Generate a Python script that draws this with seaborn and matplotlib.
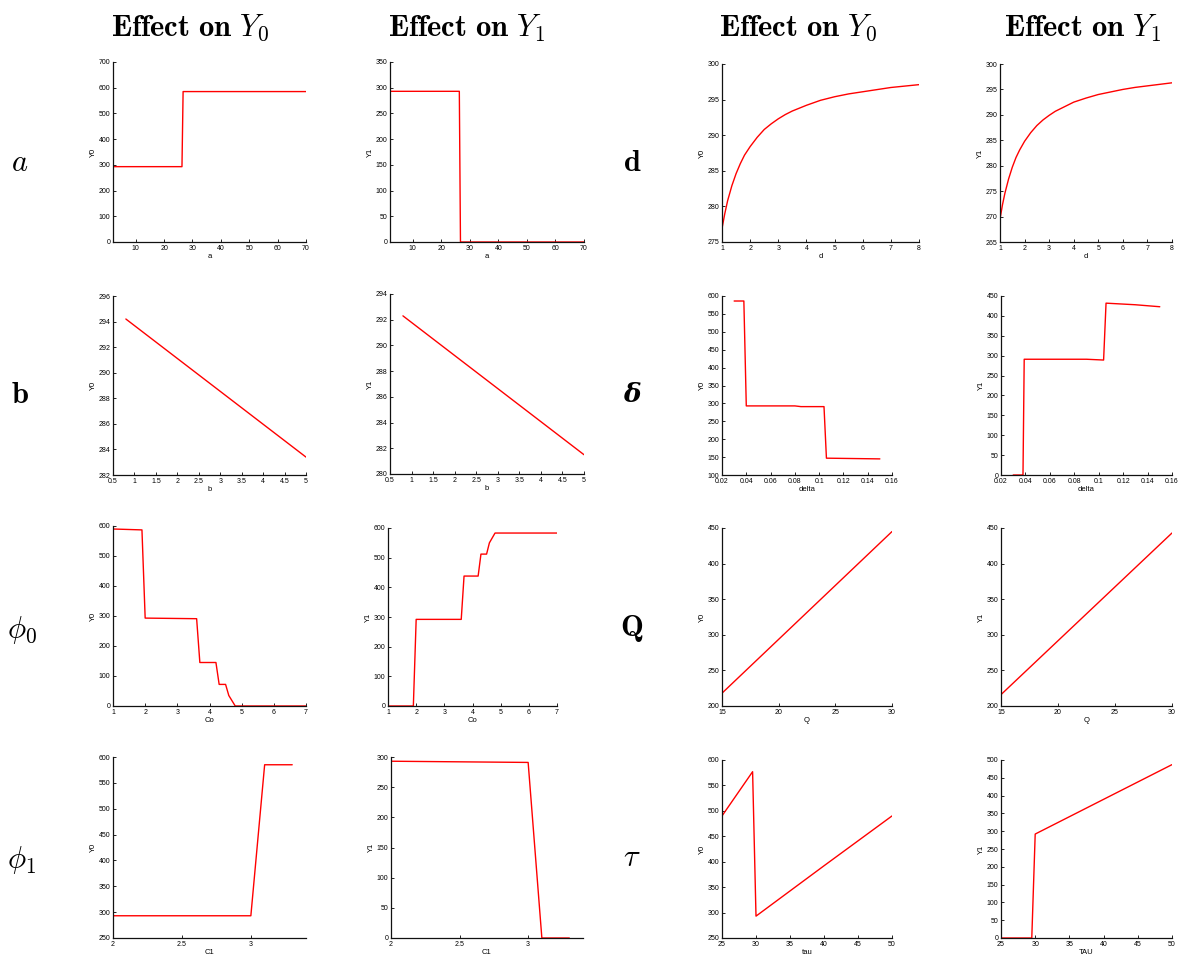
import numpy as np
import pandas as pd
import matplotlib
matplotlib.use("Agg")
import matplotlib.pyplot as plt
import seaborn as sns

# ---------------- data ----------------
a_x = [2, 26.3, 26.7, 70]
a_y0 = [293, 293, 585, 585]
a_y1 = [293, 293, 0, 0]

b_x = [0.8, 5.0]
b_y0 = [294.2, 283.4]
b_y1 = [292.3, 281.5]

co_x = [1.0, 1.9, 2.0, 3.6, 3.7, 4.2, 4.3, 4.5, 4.6, 4.8, 7.0]
co_y0 = [590, 587, 293, 291, 145, 145, 72, 72, 35, 0, 0]
co_y1 = [0, 0, 292, 292, 438, 438, 512, 512, 550, 583, 583]

c1_x = [2.0, 3.0, 3.1, 3.3]
c1_y0 = [293, 293, 585, 585]
c1_y1 = [293, 291, 0, 0]

d_x = [1, 1.1, 1.2, 1.35, 1.5, 1.65, 1.8, 2, 2.25, 2.5, 2.75, 3, 3.25, 3.5, 4,
       4.5, 5, 5.5, 6, 6.5, 7, 7.5, 8]
d_y0 = [276.9, 279.0, 280.8, 282.9, 284.6, 286.0, 287.2, 288.4, 289.7, 290.8,
        291.6, 292.3, 292.9, 293.4, 294.2, 294.9, 295.4, 295.8, 296.1, 296.4,
        296.7, 296.9, 297.1]
d_y1 = [269.5, 272.3, 274.6, 277.4, 279.7, 281.6, 283.1, 284.8, 286.5, 287.9,
        289.0, 289.9, 290.7, 291.3, 292.5, 293.3, 294.0, 294.5, 295.0, 295.4,
        295.7, 296.0, 296.3]

delta_x0 = [0.03, 0.038, 0.04, 0.08, 0.085, 0.104, 0.106, 0.15]
delta_y0 = [586, 586, 293, 293, 291, 291, 147, 145]
delta_x1 = [0.03, 0.038, 0.039, 0.09, 0.104, 0.106, 0.13, 0.15]
delta_y1 = [0, 0, 291, 291, 289, 432, 428, 423]

q_x = [15, 30]
q_y0 = [218, 445]
q_y1 = [216, 443]

tau_x0 = [25, 29.5, 30, 40, 50]
tau_y0 = [490, 577, 293, 392, 490]
tau_x1 = [25, 29.5, 30, 50]
tau_y1 = [0, 0, 292, 487]

col_titles = [r"$\mathbf{Effect\ on}\ Y_0$", r"$\mathbf{Effect\ on}\ Y_1$",
              r"$\mathbf{Effect\ on}\ Y_0$", r"$\mathbf{Effect\ on}\ Y_1$"]

# ---------------- figure ----------------
sns.set_style("ticks")
plt.rcParams["font.family"] = ["Liberation Sans", "DejaVu Sans"]
plt.rcParams["mathtext.fontset"] = "cm"
plt.rcParams["text.color"] = "black"
plt.rcParams["axes.labelcolor"] = "black"

W, H = 1179, 956
fig = plt.figure(figsize=(W / 100, H / 100), dpi=100)


def box(l, t, r, b):
    return [l / W, 1 - b / H, (r - l) / W, (b - t) / H]


panels = [
    (box(113, 62, 306, 242), a_x, a_y0, "a", "Y0", (2, 70), (0, 700), range(10, 71, 10), range(0, 701, 100)),
    (box(390, 62, 584, 242), a_x, a_y1, "a", "Y1", (2, 70), (0, 350), range(10, 71, 10), range(0, 351, 50)),
    (box(722, 64, 919, 242), d_x, d_y0, "d", "Y0", (1, 8), (275, 300), range(1, 9), range(275, 301, 5)),
    (box(1000, 64, 1172, 242), d_x, d_y1, "d", "Y1", (1, 8), (265, 300), range(1, 9), range(265, 301, 5)),

    (box(113, 296, 306, 475), b_x, b_y0, "b", "Y0", (0.5, 5), (282, 296), np.arange(0.5, 5.01, 0.5), range(282, 297, 2)),
    (box(390, 294, 584, 474), b_x, b_y1, "b", "Y1", (0.5, 5), (280, 294), np.arange(0.5, 5.01, 0.5), range(280, 295, 2)),
    (box(722, 296, 892, 475), delta_x0, delta_y0, "delta", "Y0", (0.02, 0.16), (100, 600), np.arange(0.02, 0.161, 0.02), range(100, 601, 50)),
    (box(1001, 296, 1172, 475), delta_x1, delta_y1, "delta", "Y1", (0.02, 0.16), (0, 450), np.arange(0.02, 0.161, 0.02), range(0, 451, 50)),

    (box(113, 526, 306, 706), co_x, co_y0, "Co", "Y0", (1, 7), (0, 600), range(1, 8), range(0, 601, 100)),
    (box(388, 528, 557, 706), co_x, co_y1, "Co", "Y1", (1, 7), (0, 600), range(1, 8), range(0, 601, 100)),
    (box(722, 528, 892, 706), q_x, q_y0, "Q", "Y0", (15, 30), (200, 450), range(15, 31, 5), range(200, 451, 50)),
    (box(1001, 528, 1172, 706), q_x, q_y1, "Q", "Y1", (15, 30), (200, 450), range(15, 31, 5), range(200, 451, 50)),

    (box(113, 757, 306, 938), c1_x, c1_y0, "C1", "Y0", (2, 3.4), (250, 600), [2, 2.5, 3], range(250, 601, 50)),
    (box(391, 757, 583, 938), c1_x, c1_y1, "C1", "Y1", (2, 3.4), (0, 300), [2, 2.5, 3], range(0, 301, 50)),
    (box(722, 760, 892, 938), tau_x0, tau_y0, "tau", "Y0", (25, 50), (250, 600), range(25, 51, 5), range(250, 601, 50)),
    (box(1001, 760, 1172, 938), tau_x1, tau_y1, "TAU", "Y1", (25, 50), (0, 500), range(25, 51, 5), range(0, 501, 50)),
]


def fmt(v):
    return ("%.2f" % v).rstrip("0").rstrip(".")


for (bx, xs, ys, xl, yl, xlim, ylim, xt, yt) in panels:
    ax = fig.add_axes(bx)
    df = pd.DataFrame({"x": xs, "y": ys})
    sns.lineplot(data=df, x="x", y="y", ax=ax, color="red", linewidth=1.0,
                 sort=False, estimator=None)
    ax.set_xlim(*xlim)
    ax.set_ylim(*ylim)
    ax.set_xticks(list(xt))
    ax.set_yticks(list(yt))
    ax.set_xticklabels([fmt(v) for v in xt])
    ax.set_yticklabels([fmt(v) for v in yt])
    ax.set_xlabel(xl, fontsize=5.5, labelpad=1)
    ax.set_ylabel(yl, fontsize=5.5, labelpad=1)
    ax.tick_params(direction="in", length=2.5, width=0.6, labelsize=5, pad=2,
                   colors="black")
    sns.despine(ax=ax)
    for s in ("left", "bottom"):
        ax.spines[s].set_linewidth(0.9)
        ax.spines[s].set_color("#111111")

# column titles
for cx, t in zip([190, 467, 798, 1083], col_titles):
    fig.text(cx / W, 1 - 28 / H, t, ha="center", va="center", fontsize=22,
             color="black")

# row labels
row_labels = [
    (20, 163, r"$a$", {}),
    (20, 395, r"$\mathbf{b}$", {}),
    (22, 630, r"$\phi_0$", {}),
    (22, 860, r"$\phi_1$", {}),
    (632, 163, r"$\mathbf{d}$", {}),
    (632, 395, "δ", {"family": "DejaVu Serif", "weight": "bold", "style": "italic"}),
    (632, 628, r"$\mathbf{Q}$", {}),
    (632, 858, r"$\tau$", {}),
]
for x, y, t, kw in row_labels:
    fs = 19 if "family" in kw else 22
    fig.text(x / W, 1 - y / H, t, ha="center", va="center", fontsize=fs,
             color="black", **kw)

fig.savefig("out.png", dpi=100)
